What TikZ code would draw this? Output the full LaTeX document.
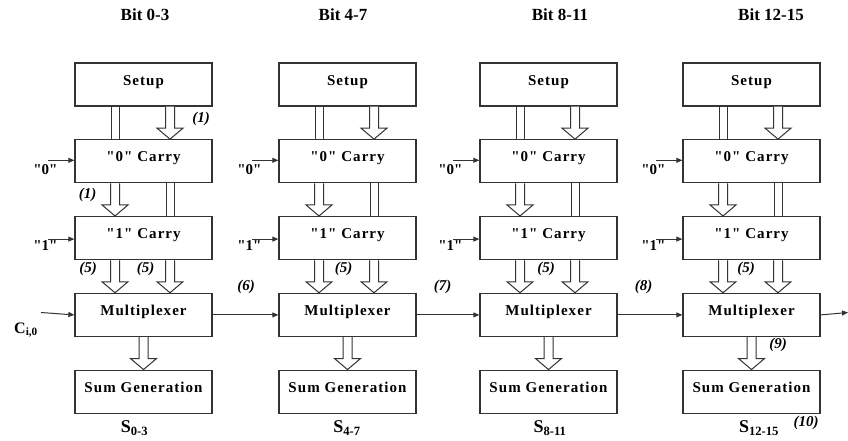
\documentclass[tikz,border=0pt]{standalone}
\usepackage{fontspec}
\setmainfont{Liberation Serif}[Ligatures=TeXOff]
\usetikzlibrary{arrows.meta,positioning,calc}
\definecolor{lnclr}{gray}{0.2}

% hollow block arrow, top point #1 to bottom point #2
\newcommand{\fatarrow}[2]{%
  \draw[fat] let \p1=(#1), \p2=(#2) in
    (\x1-4.5pt,\y1) -- (\x1-4.5pt,\y2+11pt) -- (\x1-13pt,\y2+11pt) -- (\x1,\y2)
    -- (\x1+13pt,\y2+11pt) -- (\x1+4.5pt,\y2+11pt) -- (\x1+4.5pt,\y1);}

\tikzset{
  blk/.style={draw=lnclr, line width=1.3pt, minimum width=137pt, minimum height=43pt,
    text height=10pt, text depth=9pt,
    font=\bfseries\fontsize{15}{17}\selectfont\addfontfeature{LetterSpace=7}},
  dbl/.style={draw=lnclr, line width=1pt, double, double distance=7pt},
  fat/.style={draw=lnclr, line width=1pt, fill=white},
  tip/.style={draw=lnclr, line width=1pt, -{Triangle[length=6pt,width=5pt]}},
  tag/.style={font=\bfseries\itshape\fontsize{15}{17}\selectfont},
  inlbl/.style={font=\bfseries\fontsize{15}{17}\selectfont, inner sep=0pt},
  ttl/.style={font=\bfseries\fontsize{17}{19}\selectfont},
  slbl/.style={font=\bfseries\fontsize{18}{20}\selectfont}
}

\begin{document}
\begin{tikzpicture}[x=1pt, y=-1pt, node distance=32.5pt]
  \useasboundingbox (0,0) rectangle (848,440);

  \foreach \c/\L/\bits/\tx/\sx in {1/75/0-3/145/134.5, 2/279/4-7/343/347,
                                   3/480/8-11/560/550, 4/683/12-15/771/759} {
    \node[ttl] (bit\c) at (\tx,15) {Bit \bits};
    \node[blk] (setup\c) at (\L+68.5,84.5) {Setup};
    \node[blk, below=of setup\c] (zero\c) {"0" Carry};
    \node[blk, below=of zero\c] (one\c) {"1" Carry};
    \node[blk, below=of one\c] (mux\c) {Multiplexer};
    \node[blk, below=of mux\c] (sum\c) {Sum Generation};
    \node[slbl] (s\c) at (\sx,428) {S\textsubscript{\bits}};

    \draw[dbl] ([xshift=-28.5pt]setup\c.south) -- ([xshift=-28.5pt]zero\c.north);
    \fatarrow{[xshift=26.5pt]setup\c.south}{[xshift=26.5pt]zero\c.north}
    \fatarrow{[xshift=-28.5pt]zero\c.south}{[xshift=-28.5pt]one\c.north}
    \draw[dbl] ([xshift=26.5pt]zero\c.south) -- ([xshift=26.5pt]one\c.north);
    \fatarrow{[xshift=-28.5pt]one\c.south}{[xshift=-28.5pt]mux\c.north}
    \fatarrow{[xshift=26.5pt]one\c.south}{[xshift=26.5pt]mux\c.north}
    \fatarrow{mux\c.south}{sum\c.north}

    % constant carry inputs
    \coordinate (zs\c) at ([xshift=-26pt,yshift=1pt]zero\c.west);
    \draw[tip] (zs\c) -- ([yshift=1pt]zero\c.west);
    \node[inlbl] (zl\c) at ([xshift=-29pt,yshift=-8pt]zero\c.west) {"0"};
    \coordinate (os\c) at ([xshift=-26pt,yshift=-1pt]one\c.west);
    \draw[tip] (os\c) -- ([yshift=-1pt]one\c.west);
    \node[inlbl] (ol\c) at ([xshift=-29pt,yshift=-7pt]one\c.west) {"1"};
  }

  % carry chain
  \coordinate (cin) at (41,312.5);
  \coordinate (cout) at (848,312.5);
  \node[slbl, font=\bfseries\fontsize{16}{18}\selectfont] (cinlbl) at (26,330) {C\textsubscript{i,0}};
  \draw[tip] (cin) -- (mux1.west);
  \foreach \a/\b in {1/2, 2/3, 3/4} \draw[tip] (mux\a.east) -- (mux\b.west);
  \draw[tip] (mux4.east) -- (cout);

  % step numbers
  \foreach \n/\t/\x/\y in {ta/1/201/119, tb/1/87.5/195, tc/5/88/269, td/5/145.5/269,
      te/6/246/287, tf/5/343.5/269, tg/7/442.5/287, th/5/546/269, ti/8/643.5/287,
      tj/5/746/269, tk/9/778/345, tl/10/806/423}
    \node[tag] (\n) at (\x,\y) {(\t)};
\end{tikzpicture}
\end{document}
